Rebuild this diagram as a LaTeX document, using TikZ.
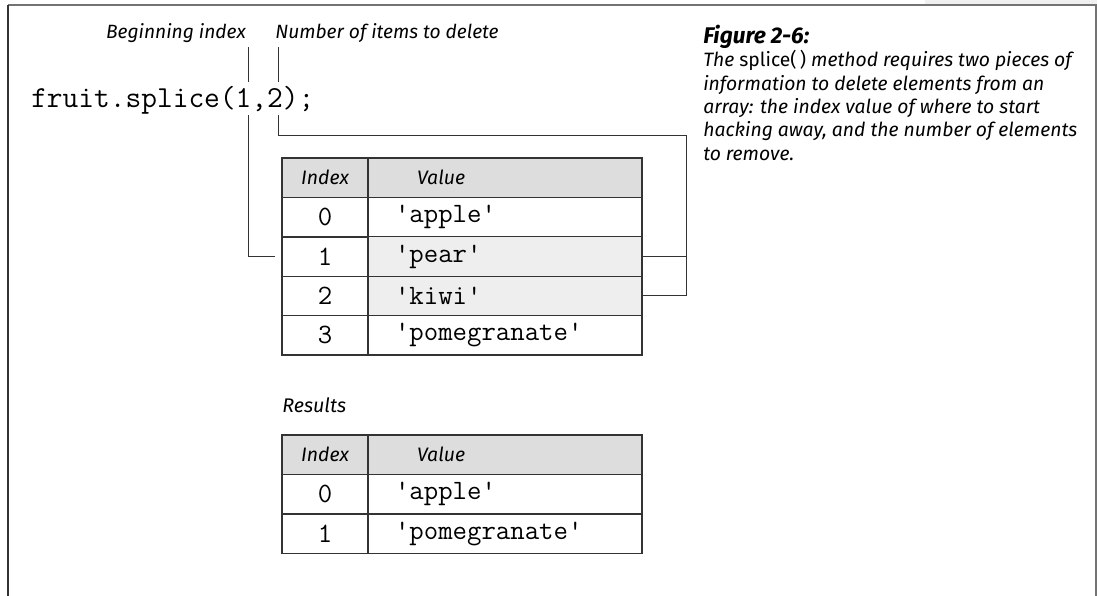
\documentclass[tikz,border=0pt]{standalone}
\usepackage{fontspec}
\setmainfont{Fira Sans}
\usetikzlibrary{positioning}

\definecolor{hdrgray}{HTML}{DDDDDD}
\definecolor{selgray}{HTML}{EEEEEE}
\definecolor{rulegray}{HTML}{333333}

\tikzset{
  lbl/.style={font=\fontsize{14.4}{17}\selectfont\itshape, inner sep=0pt},
  code/.style={font=\fontsize{22.9}{26}\selectfont\ttfamily, inner sep=0pt},
  captext/.style={font=\fontsize{14.5}{17.5}\selectfont\itshape, inner sep=0pt, align=left},
  cellbase/.style={draw=rulegray, line width=1pt, minimum height=29.6pt, inner sep=0pt, outer sep=0pt, anchor=north west},
  idxcell/.style={cellbase, minimum width=64.5pt, font=\fontsize{21}{24}\selectfont\ttfamily},
  valcell/.style={cellbase, minimum width=205.5pt, text width=165pt, align=left, font=\fontsize{21}{24}\selectfont\ttfamily},
  hdr/.style={fill=hdrgray, font=\fontsize{14.6}{17}\selectfont\itshape},
  link/.style={draw=rulegray, line width=0.75pt}
}

\begin{document}
\begin{tikzpicture}[x=0.75pt,y=-0.75pt]
\useasboundingbox (0,0) rectangle (1097,596);

% page frame
\fill[black!6] (925,0) rectangle (1097,4);
\draw[black!55, line width=1.5pt] (8,5) -- (1096,5) -- (1096,596);
\draw[rulegray, line width=0.9pt] (8,5) -- (8,596);

% labels and code line
\node[lbl, anchor=base east] (lblbegin) at (246,38) {Beginning index};
\node[lbl, anchor=base west] (lblcount) at (275,38) {Number of items to delete};
\node[code, anchor=base west] (code) at (31,107) {fruit.splice(1,2);};

\coordinate (onetop) at (248,47);
\coordinate (onebot) at (248,82);
\coordinate (twotop) at (278,47);
\coordinate (twobot) at (278,82);
\coordinate (onelow) at (248,115);
\coordinate (twolow) at (278,115);
\coordinate (bend) at (686,135);

% caption
\node[captext, anchor=north west] (caption) at (703,25) {{\fontsize{17}{17.5}\selectfont\bfseries Figure 2-6:}\\
The {\upshape splice(\,)} method requires two pieces of\\
information to delete elements from an\\
array: the index value of where to start\\
hacking away, and the number of elements\\
to remove.};

% array before splice
\node[idxcell, hdr] (hidx) at (282,158) {Index};
\node[valcell, hdr, right=0pt of hidx] (hval) {\hspace*{16.5pt}Value};
\foreach \i/\v/\f in {0/apple/white,1/pear/selgray,2/kiwi/selgray,3/pomegranate/white}
{
  \node[idxcell] (idx\i) at (282,{197.4+39.4*\i}) {\i};
  \node[valcell, fill=\f, right=0pt of idx\i] (val\i) {'\v'};
}

% result
\node[lbl, font=\fontsize{14.8}{17}\selectfont\itshape, anchor=base west] (results) at (282,412) {Results};
\node[idxcell, hdr] (ridxh) at (282,435) {Index};
\node[valcell, hdr, right=0pt of ridxh] (rvalh) {\hspace*{16.5pt}Value};
\foreach \i/\v in {0/apple,1/pomegranate}
{
  \node[idxcell] (ridx\i) at (282,{474.5+39.5*\i}) {\i};
  \node[valcell, right=0pt of ridx\i] (rval\i) {'\v'};
}

% pointer lines
\draw[link] (onetop) -- (onebot);
\draw[link] (twotop) -- (twobot);
\draw[link] (onelow) |- ([xshift=-5.25pt]idx1.west);
\draw[link] (twolow) |- (bend) |- (val2.east);
\draw[link] (bend |- val1.east) -- (val1.east);

\end{tikzpicture}
\end{document}
